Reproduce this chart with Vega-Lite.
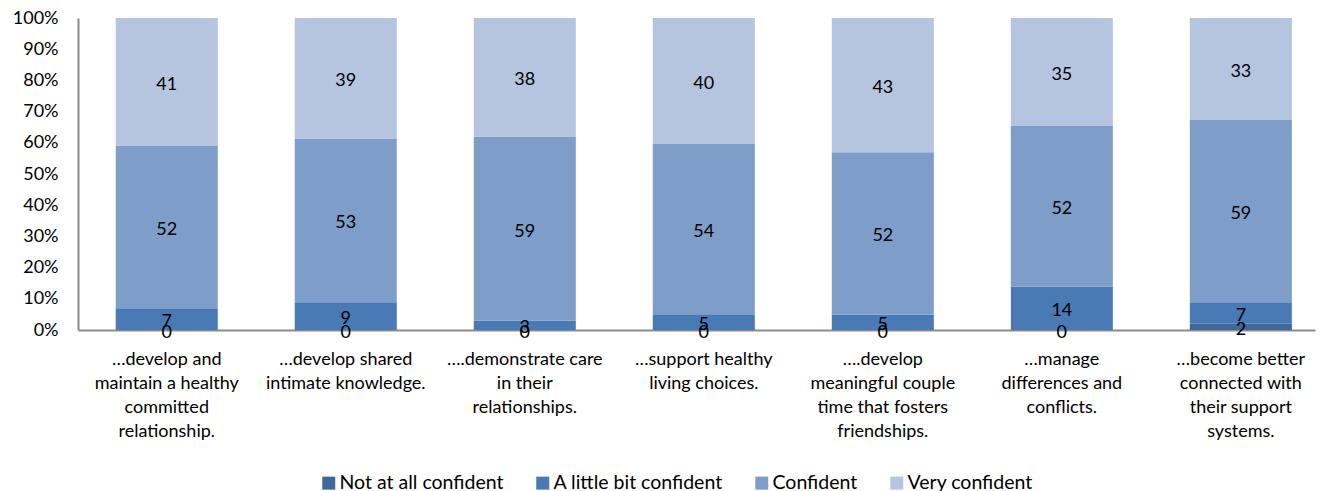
{
  "$schema": "https://vega.github.io/schema/vega-lite/v6.json",
  "autosize": "none",
  "width": 1237,
  "height": 312,
  "padding": {"left": 78, "top": 18, "right": 15, "bottom": 161},
  "background": "white",
  "config": {
    "font": "Lato",
    "view": {"stroke": null},
    "axisY": {
      "format": ".0%",
      "values": [0, 0.1, 0.2, 0.3, 0.4, 0.5, 0.6, 0.7, 0.8, 0.9, 1],
      "labelOverlap": false,
      "grid": false,
      "ticks": false,
      "labelFontSize": 18,
      "labelColor": "#000000",
      "labelPadding": 20,
      "domainColor": "#8c8c8c",
      "domainWidth": 2,
      "title": null
    }
  },
  "data": {
    "values": [
      {"cat": "…develop and|maintain a healthy|committed|relationship.", "series": "Not at all confident", "k": 1, "v": 0},
      {"cat": "…develop and|maintain a healthy|committed|relationship.", "series": "A little bit confident", "k": 2, "v": 7},
      {"cat": "…develop and|maintain a healthy|committed|relationship.", "series": "Confident", "k": 3, "v": 52},
      {"cat": "…develop and|maintain a healthy|committed|relationship.", "series": "Very confident", "k": 4, "v": 41},
      {"cat": "…develop shared|intimate knowledge.", "series": "Not at all confident", "k": 1, "v": 0},
      {"cat": "…develop shared|intimate knowledge.", "series": "A little bit confident", "k": 2, "v": 9},
      {"cat": "…develop shared|intimate knowledge.", "series": "Confident", "k": 3, "v": 53},
      {"cat": "…develop shared|intimate knowledge.", "series": "Very confident", "k": 4, "v": 39},
      {"cat": "….demonstrate care|in their|relationships.", "series": "Not at all confident", "k": 1, "v": 0},
      {"cat": "….demonstrate care|in their|relationships.", "series": "A little bit confident", "k": 2, "v": 3},
      {"cat": "….demonstrate care|in their|relationships.", "series": "Confident", "k": 3, "v": 59},
      {"cat": "….demonstrate care|in their|relationships.", "series": "Very confident", "k": 4, "v": 38},
      {"cat": "…support healthy|living choices.", "series": "Not at all confident", "k": 1, "v": 0},
      {"cat": "…support healthy|living choices.", "series": "A little bit confident", "k": 2, "v": 5},
      {"cat": "…support healthy|living choices.", "series": "Confident", "k": 3, "v": 54},
      {"cat": "…support healthy|living choices.", "series": "Very confident", "k": 4, "v": 40},
      {"cat": "….develop|meaningful couple|time that fosters|friendships.", "series": "Not at all confident", "k": 1, "v": 0},
      {"cat": "….develop|meaningful couple|time that fosters|friendships.", "series": "A little bit confident", "k": 2, "v": 5},
      {"cat": "….develop|meaningful couple|time that fosters|friendships.", "series": "Confident", "k": 3, "v": 52},
      {"cat": "….develop|meaningful couple|time that fosters|friendships.", "series": "Very confident", "k": 4, "v": 43},
      {"cat": "…manage|differences and|conflicts.", "series": "Not at all confident", "k": 1, "v": 0},
      {"cat": "…manage|differences and|conflicts.", "series": "A little bit confident", "k": 2, "v": 14},
      {"cat": "…manage|differences and|conflicts.", "series": "Confident", "k": 3, "v": 52},
      {"cat": "…manage|differences and|conflicts.", "series": "Very confident", "k": 4, "v": 35},
      {"cat": "…become better|connected with|their support|systems.", "series": "Not at all confident", "k": 1, "v": 2},
      {"cat": "…become better|connected with|their support|systems.", "series": "A little bit confident", "k": 2, "v": 7},
      {"cat": "…become better|connected with|their support|systems.", "series": "Confident", "k": 3, "v": 59},
      {"cat": "…become better|connected with|their support|systems.", "series": "Very confident", "k": 4, "v": 33}
    ]
  },
  "encoding": {
    "x": {
      "field": "cat",
      "type": "nominal",
      "sort": null,
      "scale": {"paddingInner": 0.43, "paddingOuter": 0.17, "align": 0.62},
      "axis": {
        "title": null,
        "labelAngle": 0,
        "labelExpr": "split(datum.label, '|')",
        "labelFontSize": 18,
        "labelColor": "#000000",
        "labelLineHeight": 24.3,
        "labelPadding": 20,
        "labelBaseline": "top",
        "labelLimit": 0,
        "ticks": false,
        "domainColor": "#8c8c8c",
        "domainWidth": 2
      }
    },
    "order": {"field": "k", "type": "quantitative"}
  },
  "layer": [
    {
      "mark": {"type": "bar"},
      "encoding": {
        "y": {
          "field": "v",
          "type": "quantitative",
          "stack": "normalize"
        },
        "color": {
          "field": "series",
          "type": "nominal",
          "sort": ["Not at all confident", "A little bit confident", "Confident", "Very confident"],
          "scale": {
            "domain": ["Not at all confident", "A little bit confident", "Confident", "Very confident"],
            "range": ["#3F6797", "#4A7AB5", "#7F9DC9", "#B5C4DF"]
          },
          "legend": {
            "title": null,
            "orient": "none",
            "direction": "horizontal",
            "legendX": 241,
            "legendY": 455,
            "symbolType": "square",
            "symbolSize": 169,
            "symbolStrokeWidth": 0,
            "labelFontSize": 19.5,
            "labelLimit": 0,
            "labelColor": "#000000",
            "columnPadding": 29,
            "labelOffset": 1
          }
        }
      }
    },
    {
      "mark": {"type": "text", "fontSize": 18, "color": "#000000", "baseline": "middle", "dy": 3},
      "encoding": {
        "y": {
          "field": "v",
          "type": "quantitative",
          "stack": "normalize",
          "bandPosition": 0.5
        },
        "text": {"field": "v", "type": "quantitative"}
      }
    }
  ]
}
